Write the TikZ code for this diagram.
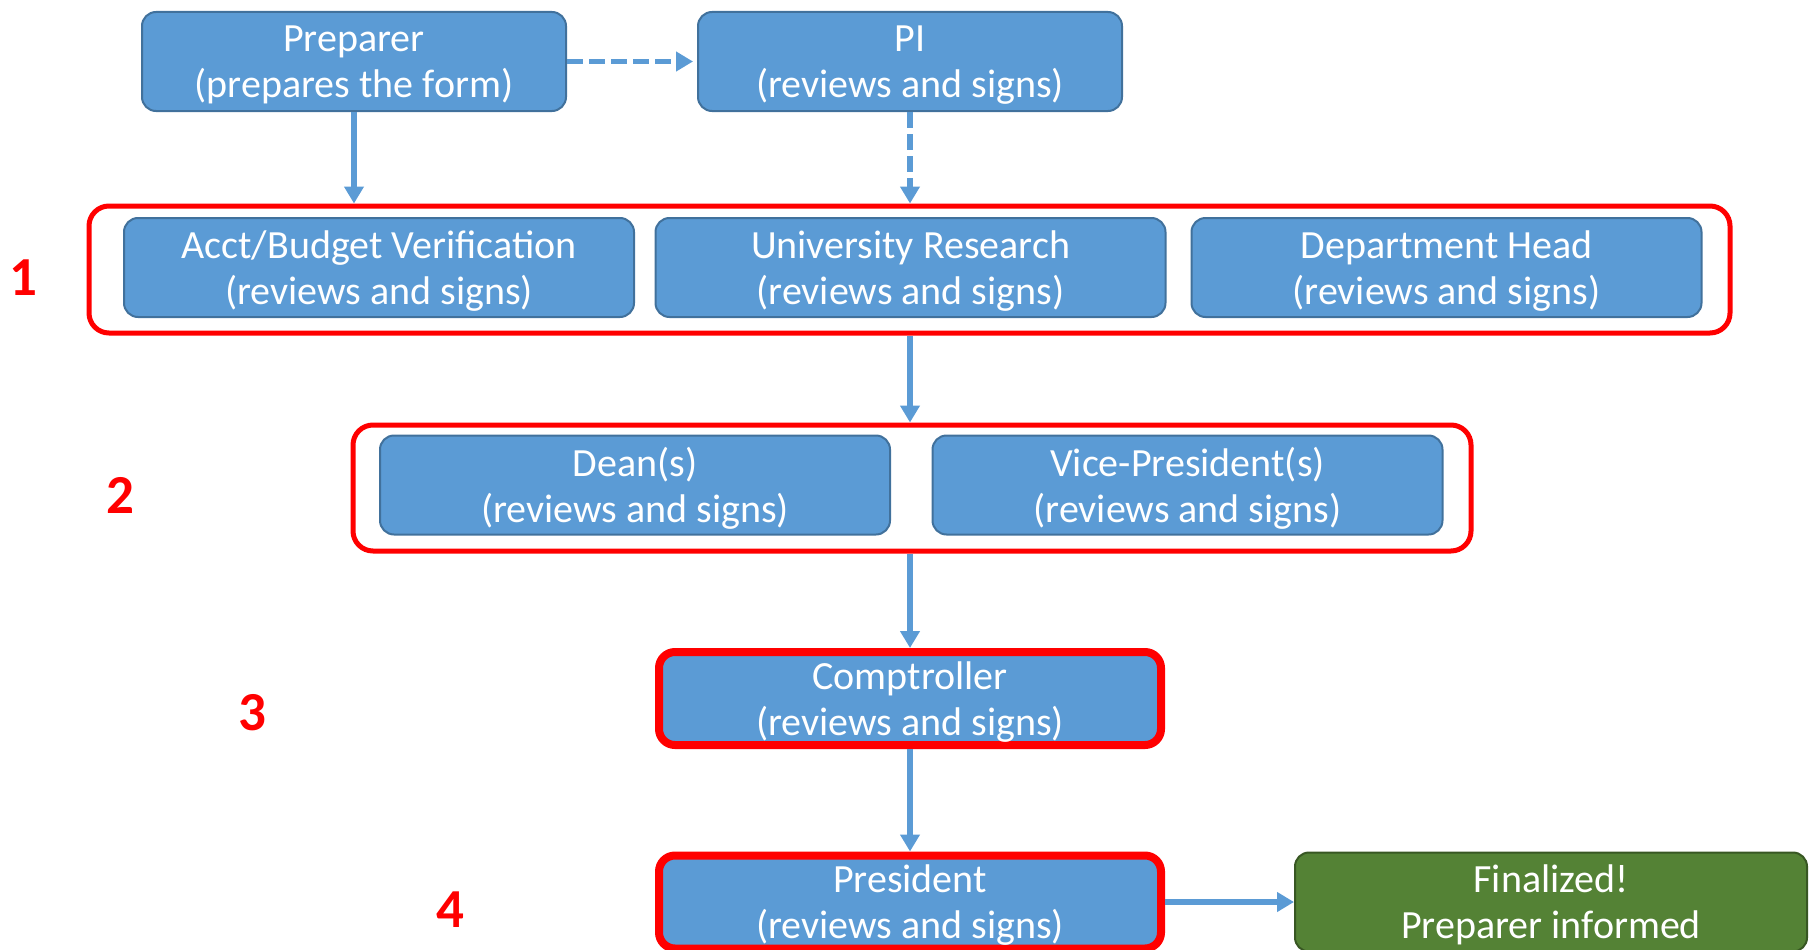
\documentclass[tikz,border=0pt]{standalone}
\usepackage{fontspec}
\setmainfont{Carlito}
\usepackage{tikz}
\usetikzlibrary{arrows.meta,positioning}
\definecolor{azul}{RGB}{91,155,213}
\definecolor{azulborde}{RGB}{65,113,156}
\definecolor{verde}{RGB}{84,130,53}
\definecolor{verdeborde}{RGB}{56,87,35}
\tikzset{
  bloque/.style={rectangle, draw=azulborde, fill=azul, line width=2pt,
                 minimum width=510pt, minimum height=99pt, inner sep=0pt,
                 align=center, text=white, font=\fontsize{40}{46}\selectfont,
                 text depth=0pt, rounded corners=14pt},
  clave/.style={bloque, draw=red, line width=8pt, minimum width=502pt,
                minimum height=93pt, rounded corners=16pt},
  final/.style={bloque, draw=verdeborde, fill=verde},
  grupo/.style={rectangle, draw=red, line width=5pt, rounded corners=20pt, inner sep=0pt},
  paso/.style={text=red, font=\fontsize{55}{60}\selectfont\bfseries},
  flecha/.style={-{Triangle[length=17pt,width=19pt]}, draw=azul, line width=5.5pt},
  punteada/.style={flecha, dash pattern=on 16pt off 6pt}
}
\begin{document}
\begin{tikzpicture}[x=1pt, y=-1pt]
  \useasboundingbox (0,0) rectangle (1815,950);
  % top row
  \node[bloque, minimum width=424pt] (prep) at (354,61.5) {Preparer\\(prepares the form)};
  \node[bloque, minimum width=424pt] (pi) at (910,61.5) {PI\\(reviews and signs)};
  % step 1
  \node[grupo, minimum width=1641pt, minimum height=127pt] (grpA) at (909.5,269.5) {};
  \node[bloque] (acct) at (379,267.5) {Acct/Budget Verification\\(reviews and signs)};
  \node[bloque] (univ) at (910.5,267.5) {University Research\\(reviews and signs)};
  \node[bloque] (dept) at (1446.5,267.5) {Department Head\\(reviews and signs)};
  % step 2
  \node[grupo, minimum width=1118pt, minimum height=126pt] (grpB) at (912,488) {};
  \node[bloque] (dean) at (635,485) {Dean(s)\\(reviews and signs)};
  \node[bloque] (vp) at (1187.5,485) {Vice-President(s)\\(reviews and signs)};
  % steps 3 and 4
  \node[clave] (comp) at (910,698.5) {Comptroller\\(reviews and signs)};
  \node[clave] (pres) at (910,902) {President\\(reviews and signs)};
  \node[final, minimum width=512pt] (fin) at (1551,902) {Finalized!\\Preparer informed};
  % step numbers
  \node[paso] (n1) at (23,278) {1};
  \node[paso] (n2) at (120,495) {2};
  \node[paso] (n3) at (252,713) {3};
  \node[paso] (n4) at (450,910) {4};
  % connectors
  \draw[punteada, shorten >=4pt] (prep.east) -- (pi.west);
  \draw[flecha] (prep.south) -- (prep.south |- grpA.north);
  \draw[punteada] (pi.south) -- (pi.south |- grpA.north);
  \draw[flecha] (pi |- grpA.south) -- (pi |- grpB.north);
  \draw[flecha] (comp |- grpB.south) -- (comp.north);
  \draw[flecha] (comp.south) -- (pres.north);
  \draw[flecha] (pres.east) -- (fin.west);
\end{tikzpicture}
\end{document}
